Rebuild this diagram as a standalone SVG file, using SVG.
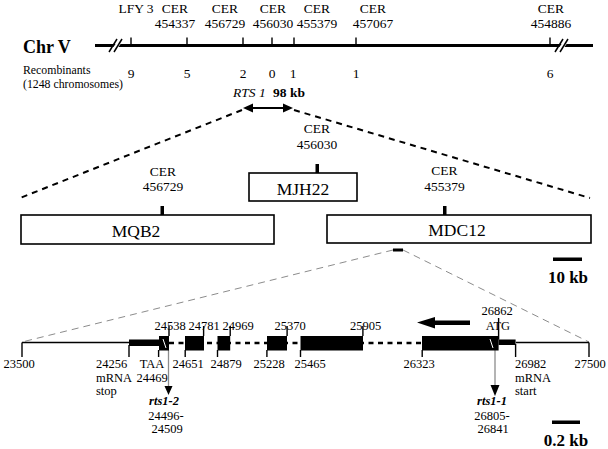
<svg xmlns="http://www.w3.org/2000/svg" width="608" height="449" viewBox="0 0 608 449">
<style>
text{font-family:"Liberation Serif","Times New Roman",serif;fill:#000}
.m{text-anchor:middle}
.f13{font-size:13.5px}
.f12{font-size:11.8px}
.fs{font-size:12.5px}
.b{font-weight:bold}
.i{font-style:italic}
.bx{fill:#fff;stroke:#000;stroke-width:1.6}
.tk{stroke:#000;stroke-width:1.4}
.gl{stroke:#000;stroke-width:1.5;fill:none}
.dk{stroke:#000;stroke-width:2;stroke-dasharray:6 5;fill:none}
.dg{stroke:#8c8c8c;stroke-width:1;stroke-dasharray:7 5;fill:none}
.gr{stroke:#8c8c8c;stroke-width:1.3}
</style>
<rect width="608" height="449" fill="#fff"/>

<g id="chromosome">
<line x1="95" y1="45.5" x2="593" y2="45.5" stroke="#000" stroke-width="3"/>
<polygon points="110,52 115,52 124,39 119,39" fill="#fff"/>
<line x1="109" y1="52" x2="117" y2="39" class="gl"/>
<line x1="114" y1="52" x2="122" y2="39" class="gl"/>
<polygon points="556,52 561,52 570,39 565,39" fill="#fff"/>
<line x1="555" y1="52" x2="563" y2="39" class="gl"/>
<line x1="560" y1="52" x2="568" y2="39" class="gl"/>
<g class="tk">
<line x1="131" y1="37.5" x2="131" y2="45"/>
<line x1="187" y1="37.5" x2="187" y2="45"/>
<line x1="243" y1="37.5" x2="243" y2="45"/>
<line x1="272" y1="37.5" x2="272" y2="45"/>
<line x1="294" y1="37.5" x2="294" y2="45"/>
<line x1="356" y1="37.5" x2="356" y2="45"/>
<line x1="550" y1="37.5" x2="550" y2="45"/>
</g>
<text x="23" y="53" font-size="18" class="b">Chr V</text>
<g class="f13 m">
<text x="136" y="13">LFY 3</text>
<text x="175" y="13">CER</text><text x="175" y="28">454337</text>
<text x="225" y="13">CER</text><text x="225" y="28">456729</text>
<text x="273" y="13">CER</text><text x="273" y="28">456030</text>
<text x="317" y="13">CER</text><text x="317" y="28">455379</text>
<text x="373" y="13">CER</text><text x="373" y="28">457067</text>
<text x="551" y="13">CER</text><text x="551" y="28">454886</text>
</g>
<text x="23" y="74" class="f12">Recombinants</text>
<text x="23" y="87.5" class="f12">(1248 chromosomes)</text>
<g class="f13 m">
<text x="131" y="78">9</text>
<text x="187" y="78">5</text>
<text x="243" y="78">2</text>
<text x="272" y="78">0</text>
<text x="293" y="78">1</text>
<text x="356" y="78">1</text>
<text x="550" y="78">6</text>
</g>
<text x="233" y="97" font-size="13.5" class="i">RTS 1</text>
<text x="273" y="97" font-size="13.5" class="b">98 kb</text>
</g>

<g id="connectors">
<line x1="250" y1="108" x2="286" y2="108" stroke="#000" stroke-width="2"/>
<polygon points="243,108 253,103.5 253,112.5" fill="#000"/>
<polygon points="293,108 283,103.5 283,112.5" fill="#000"/>
<line x1="242" y1="110" x2="20" y2="198" class="dk"/>
<line x1="294" y1="110" x2="590" y2="198" class="dk"/>
<line x1="393" y1="250" x2="22" y2="342" class="dg"/>
<line x1="403" y1="250" x2="589" y2="342" class="dg"/>
<line x1="168.5" y1="350" x2="168.5" y2="388" class="gr"/>
<polygon points="164.5,386 172.5,386 168.5,395" fill="#000"/>
<line x1="495" y1="350" x2="495" y2="387" class="gr"/>
<polygon points="490.5,385 499.5,385 495,396" fill="#000"/>
</g>

<g id="MQB2">
<rect x="21" y="215" width="253" height="29" class="bx"/>
<rect x="160.5" y="206" width="3.5" height="9" fill="#000"/>
<text x="163" y="176" class="f13 m">CER</text>
<text x="163" y="191" class="f13 m">456729</text>
<text x="136" y="237" font-size="17.5" class="m">MQB2</text>
</g>

<g id="MJH22">
<rect x="249" y="173" width="108" height="28" class="bx"/>
<rect x="315.5" y="164" width="3.5" height="9" fill="#000"/>
<text x="317" y="133" class="f13 m">CER</text>
<text x="317" y="149" class="f13 m">456030</text>
<text x="303" y="195" font-size="17.5" class="m">MJH22</text>
</g>

<g id="MDC12">
<rect x="327" y="215" width="264" height="28" class="bx"/>
<rect x="443" y="206" width="3.5" height="9" fill="#000"/>
<text x="444.5" y="175" class="f13 m">CER</text>
<text x="444.5" y="191" class="f13 m">455379</text>
<text x="457" y="236" font-size="17.5" class="m">MDC12</text>
<rect x="393" y="248.5" width="10" height="3" fill="#000"/>
</g>

<g id="scale10kb">
<rect x="553" y="257.5" width="29" height="3.5" fill="#000"/>
<text x="568" y="283" font-size="17" class="b m">10 kb</text>
</g>

<g id="gene">
<line x1="22" y1="342.5" x2="129" y2="342.5" class="gl"/>
<line x1="516" y1="342.5" x2="589" y2="342.5" class="gl"/>
<line x1="169" y1="343" x2="422" y2="343" stroke="#000" stroke-width="2.5" stroke-dasharray="5 4.5"/>
<rect x="129" y="339.5" width="30" height="6.5" fill="#000"/>
<rect x="159" y="336" width="10" height="14.5" fill="#000"/>
<rect x="185" y="336" width="19" height="14.5" fill="#000"/>
<rect x="217.5" y="336" width="12.7" height="14.5" fill="#000"/>
<rect x="267" y="336" width="20" height="14.5" fill="#000"/>
<rect x="300.5" y="336" width="62.5" height="14.5" fill="#000"/>
<rect x="422" y="336" width="76.6" height="14.5" fill="#000"/>
<rect x="498.6" y="339.5" width="17" height="5.5" fill="#000"/>
<line x1="163" y1="339" x2="166" y2="348" stroke="#fff" stroke-width="1"/>
<line x1="490" y1="339" x2="493" y2="348" stroke="#fff" stroke-width="1"/>
<g class="tk">
<line x1="169" y1="326" x2="169" y2="336"/>
<line x1="203.6" y1="326" x2="203.6" y2="336"/>
<line x1="230.2" y1="326" x2="230.2" y2="336"/>
<line x1="287.1" y1="326" x2="287.1" y2="336"/>
<line x1="362.9" y1="326" x2="362.9" y2="336"/>
<line x1="498.6" y1="318" x2="498.6" y2="339.5"/>
<line x1="22" y1="342.5" x2="22" y2="357"/>
<line x1="129" y1="345" x2="129" y2="357"/>
<line x1="158.6" y1="350" x2="158.6" y2="357"/>
<line x1="185.2" y1="350" x2="185.2" y2="357"/>
<line x1="217.5" y1="350" x2="217.5" y2="357"/>
<line x1="266.9" y1="350" x2="266.9" y2="357"/>
<line x1="300.5" y1="350" x2="300.5" y2="357"/>
<line x1="422.2" y1="350" x2="422.2" y2="357"/>
<line x1="515.6" y1="344" x2="515.6" y2="357"/>
<line x1="589" y1="342.5" x2="589" y2="357"/>
</g>
<g class="fs m">
<text x="170" y="330">24538</text>
<text x="204" y="330">24781</text>
<text x="238" y="330">24969</text>
<text x="290" y="330">25370</text>
<text x="365.5" y="330">25905</text>
<text x="497" y="315">26862</text>
<text x="498" y="330">ATG</text>
<text x="19" y="368">23500</text>
<text x="152" y="368">TAA</text>
<text x="152" y="382">24469</text>
<text x="188" y="368">24651</text>
<text x="226" y="368">24879</text>
<text x="269" y="368">25228</text>
<text x="310" y="368">25465</text>
<text x="419" y="368">26323</text>
<text x="590" y="368">27500</text>
<text x="166" y="420">24496-</text>
<text x="167" y="433">24509</text>
<text x="492" y="420">26805-</text>
<text x="493" y="433">26841</text>
</g>
<g class="fs">
<text x="96" y="368">24256</text>
<text x="96" y="382">mRNA</text>
<text x="96" y="395">stop</text>
<text x="515" y="368">26982</text>
<text x="515" y="382">mRNA</text>
<text x="515" y="395">start</text>
</g>
<text x="164" y="405" class="fs m b i">rts1-2</text>
<text x="492" y="405" class="fs m b i">rts1-1</text>
<polygon points="417,322.5 435,317 435,320.5 470,320.5 470,325 435,325 435,328.5" fill="#000"/>
</g>

<g id="scale02kb">
<rect x="552" y="420.5" width="28" height="3.5" fill="#000"/>
<text x="566" y="446" font-size="17" class="b m">0.2 kb</text>
</g>
</svg>
